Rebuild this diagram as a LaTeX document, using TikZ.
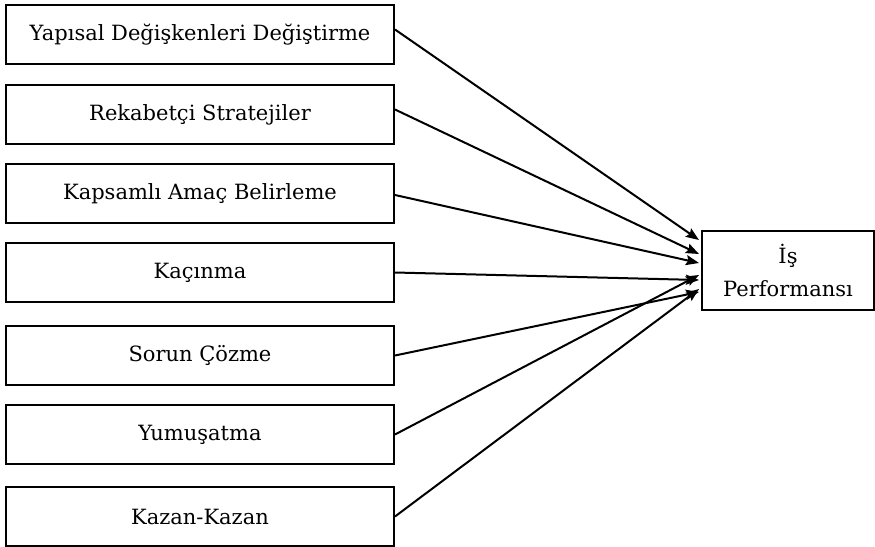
\documentclass[tikz,border=0pt]{standalone}
\usepackage{fontspec}
\setmainfont{DejaVu Serif}
\usetikzlibrary{arrows.meta}
\begin{document}
\begin{tikzpicture}[x=1pt,y=-1pt,
  box/.style={draw,line width=2pt,minimum width=388pt,minimum height=59pt,inner sep=0pt,font=\fontsize{21}{25}\selectfont,anchor=north west},
  tbox/.style={draw,line width=2pt,minimum width=172pt,minimum height=79pt,inner sep=0pt,font=\fontsize{21}{33}\selectfont,align=center},
  conn/.style={line width=2pt,-{Stealth[length=13pt,width=10pt,inset=2pt]}}]
\useasboundingbox (0,0) rectangle (875,546);
\node[box] (a) at (5,4) {Yapısal Değişkenleri Değiştirme};
\node[box] (b) at (5,84) {Rekabetçi Stratejiler};
\node[box] (c) at (5,163) {Kapsamlı Amaç Belirleme};
\node[box] (d) at (5,242) {Kaçınma};
\node[box] (e) at (5,325) {Sorun Çözme};
\node[box] (f) at (5,404) {Yumuşatma};
\node[box] (g) at (5,486) {Kazan-Kazan};
\node[tbox] (t) at (788,270.5) {İş\\Performansı};
\draw[conn] ([yshift=5pt]a.east) -- ([xshift=-2pt,yshift=30.5pt]t.west);
\draw[conn] ([yshift=5pt]b.east) -- ([xshift=-2pt,yshift=16.5pt]t.west);
\draw[conn] ([yshift=-1.5pt]c.east) -- ([xshift=-2pt,yshift=7.5pt]t.west);
\draw[conn] (d.east) -- ([xshift=-2pt,yshift=-9.5pt]t.west);
\draw[conn] (e.east) -- ([xshift=-2pt,yshift=-21.5pt]t.west);
\draw[conn] (f.east) -- ([xshift=-2pt,yshift=-4.5pt]t.west);
\draw[conn] (g.east) -- ([xshift=-2pt,yshift=-18.5pt]t.west);
\end{tikzpicture}
\end{document}
